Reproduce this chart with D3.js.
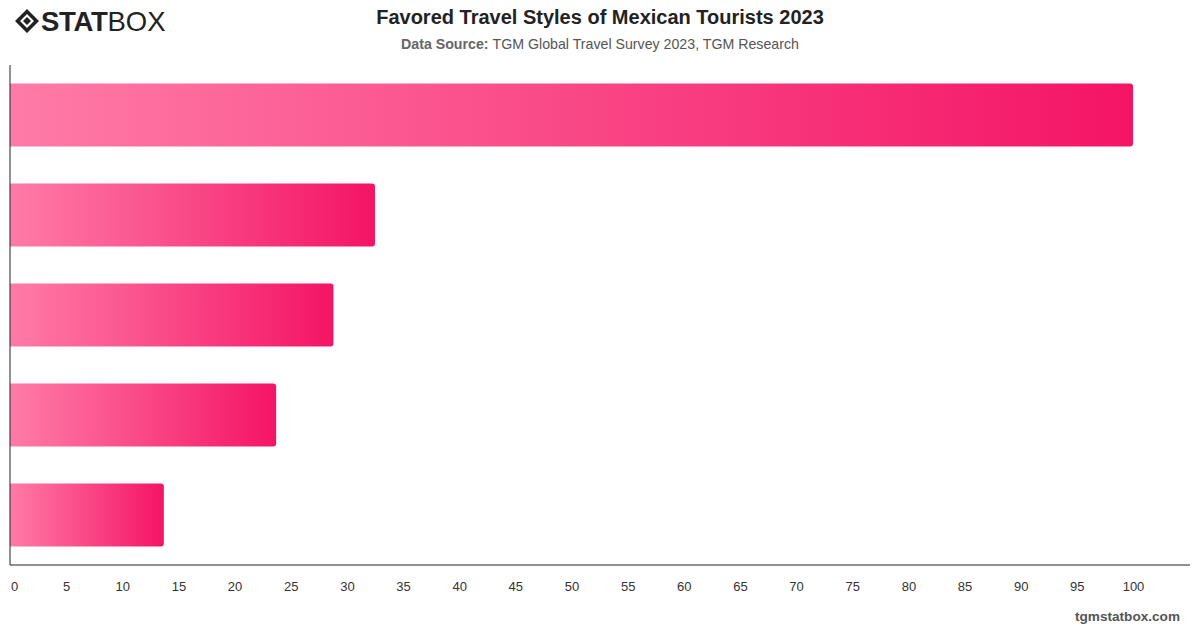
<!DOCTYPE html>
<html>
<head>
<meta charset="utf-8">
<script src="https://cdn.jsdelivr.net/npm/d3@7"></script>
<style>
  body { margin: 0; background: #fff; }
  svg { display: block; font-family: "Helvetica Neue", Helvetica, Arial, "Liberation Sans", sans-serif; }
</style>
</head>
<body>
<svg id="chart" width="1200" height="628"></svg>
<script>
// chart data
const categories = ['Relaxation', 'Cultural', 'Adventure', 'Luxury', 'Budget']
const values = [100, 32.5, 28.8, 23.7, 13.7]
const ticks = [0, 5, 10, 15, 20, 25, 30, 35, 40, 45, 50, 55, 60, 65, 70, 75, 80, 85, 90, 95, 100]

const svg = d3.select('#chart')
const margin = { top: 65, left: 10, right: 10, bottom: 63 }
const W = 1200
const H = 628

const x = d3.scaleLinear().domain([0, 100]).range([margin.left, margin.left + 1123])
const y = d3.scaleBand().domain(categories)
  .range([margin.top, H - margin.bottom])
  .paddingInner(0.37).paddingOuter(0.185)

// gradient for bars
const defs = svg.append('defs')
const grad = defs.append('linearGradient').attr('id', 'barGrad')
  .attr('x1', '0%').attr('x2', '100%').attr('y1', '0%').attr('y2', '0%')
grad.append('stop').attr('offset', '0%').attr('stop-color', '#ff7ba7')
grad.append('stop').attr('offset', '100%').attr('stop-color', '#f41466')

// bars (rounded on the right end only)
const barPath = (d, i) => {
  const x0 = x(0)
  const x1 = x(values[i])
  const y0 = y(d)
  const h = y.bandwidth()
  const r = 3
  return `M${x0},${y0}H${x1 - r}Q${x1},${y0} ${x1},${y0 + r}V${y0 + h - r}Q${x1},${y0 + h} ${x1 - r},${y0 + h}H${x0}Z`
}
svg.append('g').selectAll('path')
  .data(categories)
  .join('path')
  .attr('d', barPath)
  .attr('fill', 'url(#barGrad)')

// axes
const axisY = H - margin.bottom
svg.append('line').attr('x1', x(0)).attr('x2', W - margin.right)
  .attr('y1', axisY).attr('y2', axisY).attr('stroke', '#222').attr('stroke-width', 1)
svg.append('line').attr('x1', x(0)).attr('x2', x(0))
  .attr('y1', margin.top).attr('y2', axisY).attr('stroke', '#222').attr('stroke-width', 1)

const xAxis = d3.axisBottom(x).tickValues(ticks).tickSize(0).tickPadding(17)
const gx = svg.append('g').attr('transform', `translate(0,${axisY})`).call(xAxis)
gx.select('.domain').remove()
gx.selectAll('text')
  .attr('font-size', 13).attr('fill', '#333')
  .attr('font-family', '"Helvetica Neue", Helvetica, Arial, "Liberation Sans", sans-serif')
  .attr('dx', d => d === 0 ? 4 : 0)

// title block
svg.append('text').attr('x', 600).attr('y', 24).attr('text-anchor', 'middle')
  .attr('font-size', 20).attr('font-weight', 'bold').attr('fill', '#222')
  .text('Favored Travel Styles of Mexican Tourists 2023')
const sub = svg.append('text').attr('x', 600).attr('y', 49).attr('text-anchor', 'middle')
  .attr('font-size', 14.2).attr('fill', '#555')
sub.append('tspan').attr('font-weight', 'bold').attr('fill', '#666').text('Data Source: ')
sub.append('tspan').text('TGM Global Travel Survey 2023, TGM Research')

// footer
svg.append('text').attr('x', 1180).attr('y', 621).attr('text-anchor', 'end')
  .attr('font-size', 13.6).attr('font-weight', 'bold').attr('fill', '#555')
  .text('tgmstatbox.com')

// logo
const logo = svg.append('g')
logo.append('path')
  .attr('d', 'M27,9 L39,21 L27,33 L15,21 Z M27,14 L20,21 L27,28 L34,21 Z')
  .attr('fill', '#222').attr('fill-rule', 'evenodd')
logo.append('path')
  .attr('d', 'M27,17 L31,21 L27,25 L23,21 Z').attr('fill', '#222')
const lt = logo.append('text').attr('x', 41).attr('y', 31)
  .attr('font-size', 27.5).attr('fill', '#222')
lt.append('tspan').attr('font-weight', 900).attr('letter-spacing', '-0.3').text('STAT')
lt.append('tspan').attr('font-weight', 300).text('BOX')
</script>
</body>
</html>
